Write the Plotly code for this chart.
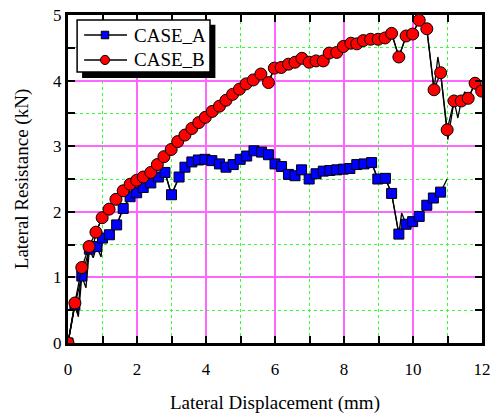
import plotly.graph_objects as go

# CASE_A (blue squares)
a_x = [0, 0.2, 0.4, 0.62, 0.83, 1.0, 1.2, 1.41, 1.6, 1.8, 1.99, 2.18, 2.4, 2.62, 2.81, 3.0, 3.22, 3.39, 3.59, 3.78,
       3.97, 4.17, 4.39, 4.58, 4.79, 4.99, 5.18, 5.39, 5.61, 5.81, 6.0, 6.19, 6.39, 6.58, 6.77, 6.99, 7.19, 7.4, 7.59, 7.79,
       7.98, 8.17, 8.37, 8.58, 8.8, 8.98, 9.2, 9.38, 9.59, 9.8, 9.99, 10.18, 10.4, 10.59, 10.8]
a_y = [0, 0.58, 1.02, 1.43, 1.47, 1.6, 1.65, 1.8, 2.05, 2.23, 2.29, 2.37, 2.44, 2.53, 2.6, 2.26, 2.53, 2.68, 2.76, 2.79,
       2.8, 2.78, 2.73, 2.68, 2.72, 2.8, 2.85, 2.93, 2.91, 2.87, 2.73, 2.69, 2.57, 2.55, 2.64, 2.5, 2.58, 2.62, 2.63, 2.64,
       2.65, 2.66, 2.72, 2.73, 2.75, 2.5, 2.51, 2.28, 1.66, 1.81, 1.85, 1.93, 2.1, 2.21, 2.3]
# CASE_A unloading dips seen only in the line
a_dip_x = [0.3, 0.52, 0.73, 0.96, 9.67, 10.99]
a_dip_y = [0.4, 0.84, 1.3, 1.31, 1.98, 2.5]

# CASE_B (red circles)
b_x = [0, 0.2, 0.4, 0.61, 0.81, 0.99, 1.19, 1.39, 1.6, 1.8, 1.99, 2.18, 2.4, 2.59, 2.78, 2.99, 3.18, 3.39, 3.59, 3.79,
       3.98, 4.18, 4.39, 4.58, 4.77, 4.97, 5.16, 5.37, 5.59, 5.81, 5.98, 6.18, 6.39, 6.58, 6.78, 6.99, 7.19, 7.4, 7.57, 7.79,
       7.98, 8.2, 8.37, 8.56, 8.77, 8.99, 9.19, 9.38, 9.59, 9.8, 9.99, 10.18, 10.4, 10.61, 10.8, 10.99, 11.19, 11.4, 11.6, 11.8,
       11.99]
b_y = [0, 0.61, 1.15, 1.47, 1.69, 1.91, 2.04, 2.19, 2.32, 2.42, 2.48, 2.53, 2.6, 2.72, 2.84, 2.95, 3.07, 3.17, 3.27, 3.36,
       3.44, 3.53, 3.61, 3.70, 3.79, 3.87, 3.95, 4.01, 4.1, 3.97, 4.19, 4.2, 4.25, 4.28, 4.34, 4.28, 4.30, 4.3, 4.42, 4.43,
       4.52, 4.57, 4.56, 4.61, 4.63, 4.63, 4.65, 4.72, 4.36, 4.68, 4.71, 4.92, 4.79, 3.86, 4.12, 3.25, 3.69, 3.69, 3.73, 3.96,
       3.84]
b_dip_x = [0.28, 0.5, 0.7, 10.72, 11.01, 11.3, 11.5]
b_dip_y = [0.45, 0.95, 1.38, 4.36, 3.1, 3.43, 3.83]

series_names = ["CASE_A", "CASE_B"]
x_ticks = [0, 2, 4, 6, 8, 10, 12]
y_ticks = [0, 1, 2, 3, 4, 5]

FONT = "Liberation Serif"
BLUE = "#0000FF"
RED = "#FF0000"


def merged(xs, ys, dxs, dys):
    pts = sorted(list(zip(xs, ys)) + list(zip(dxs, dys)), key=lambda p: p[0])
    return [p[0] for p in pts], [p[1] for p in pts]


fig = go.Figure()

for xs, ys, dxs, dys in [(a_x, a_y, a_dip_x, a_dip_y), (b_x, b_y, b_dip_x, b_dip_y)]:
    lx, ly = merged(xs, ys, dxs, dys)
    fig.add_trace(go.Scatter(x=lx, y=ly, mode="lines", line=dict(color="black", width=1.3),
                             showlegend=False, hoverinfo="skip"))

fig.add_trace(go.Scatter(x=a_x, y=a_y, mode="lines+markers", name=series_names[0], showlegend=False,
                         line=dict(color="black", width=1.3),
                         marker=dict(symbol="square", size=10, color=BLUE,
                                     line=dict(color="black", width=1))))
fig.add_trace(go.Scatter(x=b_x, y=b_y, mode="lines+markers", name=series_names[1], showlegend=False,
                         line=dict(color="black", width=1.3),
                         marker=dict(symbol="circle", size=12, color=RED,
                                     line=dict(color="black", width=1))))

# ---- legend box (drawn in paper coordinates) ----
P = dict(xref="paper", yref="paper", layer="above")
# shadow
fig.add_shape(type="rect", x0=0.034, x1=0.356, y0=0.808, y1=0.970, fillcolor="black", line=dict(width=0), **P)
# box
fig.add_shape(type="rect", x0=0.022, x1=0.343, y0=0.826, y1=0.985, fillcolor="white",
              line=dict(color="black", width=1.5), **P)
leg_rows = [0.939, 0.863]
for i, yy in enumerate(leg_rows):
    fig.add_shape(type="line", x0=0.039, x1=0.1425, y0=yy, y1=yy, line=dict(color="black", width=1.5), **P)
    fig.add_annotation(xref="paper", yref="paper", x=0.1546, y=yy, xanchor="left", yanchor="middle",
                       text=series_names[i], showarrow=False,
                       font=dict(family=FONT, size=19, color="black"))
fig.add_shape(type="rect", x0=0.0894 - 0.009, x1=0.0894 + 0.009, y0=leg_rows[0] - 0.0115, y1=leg_rows[0] + 0.0115,
              fillcolor=BLUE, line=dict(color="black", width=1), **P)
fig.add_shape(type="circle", x0=0.0894 - 0.011, x1=0.0894 + 0.011, y0=leg_rows[1] - 0.014, y1=leg_rows[1] + 0.014,
              fillcolor=RED, line=dict(color="black", width=1), **P)

axis_common = dict(
    showline=True, linecolor="black", linewidth=3, mirror="ticks",
    ticks="inside", tickcolor="black", tickwidth=2, ticklen=7,
    showgrid=True, gridcolor="#FF66FF", gridwidth=1.5,
    zeroline=False, automargin=False,
    tickfont=dict(family=FONT, size=17, color="black"),
)

fig.update_xaxes(
    range=[0, 12], tickvals=x_ticks, ticktext=[str(v) for v in x_ticks],
    ticklabelstandoff=9,
    title=dict(text="Lateral Displacement (mm)", font=dict(family=FONT, size=19, color="black"), standoff=18),
    minor=dict(dtick=1, ticks="inside", ticklen=7, tickwidth=2, tickcolor="black",
               showgrid=True, gridcolor="#33FF33", griddash="dot", gridwidth=1.2),
    **axis_common,
)
fig.update_yaxes(
    range=[0, 5], tickvals=y_ticks, ticktext=[str(v) for v in y_ticks],
    title=dict(text="Lateral Resistance (kN)", font=dict(family=FONT, size=19, color="black"), standoff=20),
    minor=dict(dtick=0.5, ticks="inside", ticklen=7, tickwidth=2, tickcolor="black",
               showgrid=True, gridcolor="#33FF33", griddash="dot", gridwidth=1.2),
    **axis_common,
)

fig.update_layout(
    width=501, height=414,
    margin=dict(l=68, r=19, t=15, b=71),
    plot_bgcolor="white", paper_bgcolor="white",
    font=dict(family=FONT, color="black"),
    showlegend=False,
)

fig.write_html("out.html", config={"displayModeBar": False},
               post_script="document.body.style.margin='0px';")
